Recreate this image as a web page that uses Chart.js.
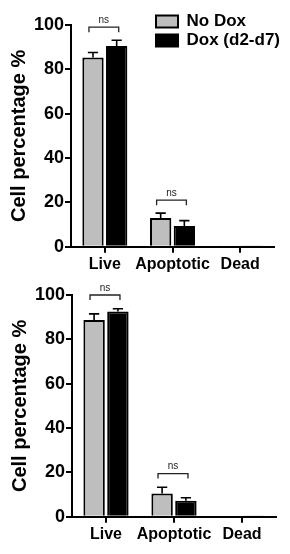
<!DOCTYPE html>
<html>
<head>
<meta charset="utf-8">
<script src="https://cdn.jsdelivr.net/npm/chart.js@4/dist/chart.umd.min.js"></script>
<style>
  html, body { margin: 0; padding: 0; background: #fff; }
  canvas { display: block; }
</style>
</head>
<body>
<canvas id="topChart" width="290" height="277"></canvas>
<canvas id="bottomChart" width="290" height="277"></canvas>
<script>
var categories = ['Live', 'Apoptotic', 'Dead'];
var seriesNames = ['No Dox', 'Dox (d2-d7)'];
var yTicks = [0, 20, 40, 60, 80, 100];

// top panel: mean and upper error (SD) per category
var topNoDox = [85.4, 13.0, 0.3];
var topNoDoxErr = [2.2, 2.2, 0];
var topDox = [90.5, 9.4, 0.3];
var topDoxErr = [2.6, 2.4, 0];

// bottom panel
var bottomNoDox = [88.7, 10.5, 0.5];
var bottomNoDoxErr = [2.8, 2.8, 0];
var bottomDox = [92.6, 7.2, 0.3];
var bottomDoxErr = [1.2, 1.4, 0];

// "ns" brackets: category index, height on the y axis
var sigCats = [0, 1];
var sigLabels = ['ns', 'ns'];
var topSigLevels = [99, 21];
var bottomSigLevels = [100, 19.5];

var gray = '#bebebe';
Chart.defaults.font.family = "'Liberation Sans', Arial, sans-serif";
Chart.defaults.color = '#000';

var errorBarPlugin = {
    id: 'errorBars',
    afterDatasetsDraw: function(chart) {
        var ctx = chart.ctx, y = chart.scales.y;
        ctx.save();
        ctx.strokeStyle = '#000';
        ctx.lineWidth = 1.6;
        chart.data.datasets.forEach(function(ds, d) {
            var meta = chart.getDatasetMeta(d);
            meta.data.forEach(function(bar, i) {
                var err = ds.errors[i];
                if (!err) return;
                var top = y.getPixelForValue(ds.data[i] + err);
                var cap = bar.width * 0.24;
                ctx.beginPath();
                ctx.moveTo(bar.x, bar.y);
                ctx.lineTo(bar.x, top);
                ctx.moveTo(bar.x - cap, top);
                ctx.lineTo(bar.x + cap, top);
                ctx.stroke();
            });
        });
        ctx.restore();
    }
};

var bracketPlugin = {
    id: 'sigBrackets',
    afterDatasetsDraw: function(chart, args, opts) {
        if (!opts.levels) return;
        var ctx = chart.ctx, x = chart.scales.x, y = chart.scales.y;
        var half = (x.getPixelForValue(1) - x.getPixelForValue(0)) * 0.22;
        ctx.save();
        ctx.strokeStyle = '#222';
        ctx.fillStyle = '#222';
        ctx.lineWidth = 1.3;
        ctx.font = "10px 'Liberation Sans', Arial, sans-serif";
        ctx.textAlign = 'center';
        ctx.textBaseline = 'bottom';
        sigCats.forEach(function(c, k) {
            var cx = x.getPixelForValue(c) - 1;
            var by = y.getPixelForValue(opts.levels[k]);
            ctx.beginPath();
            ctx.moveTo(cx - half, by + 5);
            ctx.lineTo(cx - half, by);
            ctx.lineTo(cx + half, by);
            ctx.lineTo(cx + half, by + 5);
            ctx.stroke();
            ctx.fillText(sigLabels[k], cx, by - 2);
        });
        ctx.restore();
    }
};

// move the legend into the upper right corner of the plot
var legendPlacer = {
    id: 'legendPlacer',
    afterLayout: function(chart, args, opts) {
        if (!opts.left) return;
        chart.legend.left = opts.left;
        chart.legend.top = opts.top;
        chart.legend.right = chart.width;
    }
};

function makeChart(id, noDox, noDoxErr, dox, doxErr, levels, pad, showLegend) {
    return new Chart(document.getElementById(id), {
        type: 'bar',
        data: {
            labels: categories,
            datasets: [{
                label: seriesNames[0],
                data: noDox,
                errors: noDoxErr,
                backgroundColor: gray,
                borderColor: '#000',
                borderWidth: 2
            }, {
                label: seriesNames[1],
                data: dox,
                errors: doxErr,
                backgroundColor: '#000',
                borderColor: '#000',
                borderWidth: 2
            }]
        },
        options: {
            responsive: false,
            animation: false,
            layout: { padding: pad },
            datasets: {
                bar: { categoryPercentage: 0.7, barPercentage: 0.9 }
            },
            scales: {
                x: {
                    grid: { drawOnChartArea: false, offset: false, color: '#000', lineWidth: 2, tickLength: 6 },
                    border: { color: '#000', width: 2 },
                    ticks: { font: { size: 16, weight: 'bold' }, padding: 2, color: '#000',
                             maxRotation: 0, minRotation: 0, autoSkip: false }
                },
                y: {
                    min: 0,
                    max: 100,
                    afterBuildTicks: function(scale) {
                        scale.ticks = yTicks.map(function(v) { return { value: v }; });
                    },
                    afterFit: function(scale) { scale.width = 71; },
                    grid: { drawOnChartArea: false, color: '#000', lineWidth: 2, tickLength: 6 },
                    border: { color: '#000', width: 2 },
                    ticks: { font: { size: 18, weight: 'bold' }, padding: 1, color: '#000' },
                    title: {
                        display: true,
                        text: 'Cell percentage %',
                        font: { size: 20, weight: 'bold' },
                        color: '#000',
                        padding: { top: 7, bottom: 0 }
                    }
                }
            },
            plugins: {
                legend: {
                    display: showLegend,
                    position: 'chartArea',
                    align: 'start',
                    labels: {
                        boxWidth: 22,
                        boxHeight: 12,
                        padding: 2,
                        color: '#000',
                        font: { size: 17, weight: 'bold' }
                    }
                },
                legendPlacer: showLegend ? { left: 154, top: 11 } : {},
                sigBrackets: { levels: levels },
                tooltip: { enabled: false }
            }
        },
        plugins: [errorBarPlugin, bracketPlugin, legendPlacer]
    });
}

makeChart('topChart', topNoDox, topNoDoxErr, topDox, topDoxErr, topSigLevels,
    { top: 25, bottom: 1, left: 0, right: 16 }, true);
makeChart('bottomChart', bottomNoDox, bottomNoDoxErr, bottomDox, bottomDoxErr, bottomSigLevels,
    { top: 18, bottom: 8, left: 1, right: 14 }, false);
</script>
</body>
</html>
